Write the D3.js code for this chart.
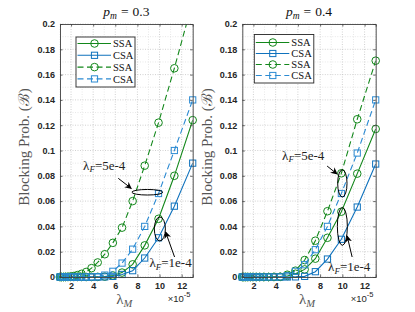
<!DOCTYPE html>
<html>
<head>
<meta charset="utf-8">
<script src="https://cdn.jsdelivr.net/npm/d3@7"></script>
<style>
body{margin:0;background:#fff}
</style>
</head>
<body>
<svg id="chart" width="415" height="312"></svg>
<script>
// lambda_M (x 1e-5)
var lambdaM = [1.00, 1.14, 1.31, 1.50, 1.72, 1.96, 2.25, 2.57, 2.94, 3.37, 3.85, 4.41, 5.05, 5.78, 6.61, 7.57, 8.66, 9.91, 11.34, 13.00];

// p_m = 0.3
var p3SsaLo = [0, 0, 0, 0, 0, 0, 0, 0, 0, 0, 0, 0.0001, 0.0003, 0.0012, 0.0035, 0.010, 0.025, 0.046, 0.080, 0.124];
var p3CsaLo = [0, 0, 0, 0, 0, 0, 0, 0, 0, 0, 0, 0, 0.0001, 0.0005, 0.002, 0.005, 0.015, 0.031, 0.056, 0.090];
var p3SsaHi = [0, 0, 0, 0.0001, 0.0002, 0.0004, 0.0008, 0.0015, 0.0025, 0.004, 0.007, 0.0115, 0.018, 0.027, 0.039, 0.060, 0.088, 0.122, 0.165, 0.218];
var p3CsaHi = [0, 0, 0, 0, 0, 0, 0, 0, 0, 0, 0, 0.0002, 0.0015, 0.0045, 0.011, 0.022, 0.040, 0.066, 0.100, 0.140];

// p_m = 0.4
var p4SsaLo = [0, 0, 0, 0, 0, 0, 0, 0, 0, 0, 0, 0.0001, 0.0008, 0.0026, 0.006, 0.0145, 0.031, 0.0516, 0.0817, 0.117];
var p4CsaLo = [0, 0, 0, 0, 0, 0, 0, 0, 0, 0, 0, 0, 0, 0.0001, 0.0005, 0.0042, 0.0142, 0.0298, 0.0553, 0.0893];
var p4SsaHi = [0, 0, 0, 0, 0, 0, 0, 0, 0, 0, 0.0001, 0.0002, 0.0018, 0.005, 0.0134, 0.0287, 0.052, 0.082, 0.1247, 0.171];
var p4CsaHi = [0, 0, 0, 0, 0, 0, 0, 0, 0, 0, 0, 0.0001, 0.001, 0.0045, 0.0097, 0.0216, 0.040, 0.066, 0.098, 0.140];

var legendNames = ["SSA", "CSA", "SSA", "CSA"];
var xTicks = [2, 4, 6, 8, 10, 12];
var yTicks = [0, 0.02, 0.04, 0.06, 0.08, 0.1, 0.12, 0.14, 0.16, 0.18, 0.2];

var green = "#12871a", blue = "#0f72bd", blueL = "#2b8ad2";
var styles = [
  {color: green, dash: null, mark: "circle"},
  {color: blue, dash: null, mark: "square"},
  {color: green, dash: "6,3.5", mark: "circle"},
  {color: blueL, dash: "6,3.5", mark: "square"}
];

var panels = [
  {pm: "0.3", x0: 60, x1: 192.7, ylabX: 29,
   series: [p3SsaLo, p3CsaLo, p3SsaHi, p3CsaHi],
   legend: {x: 76, y: 37, w: 59, h: 50, row0: 43.5, dy: 11.8},
   ellipses: [{cx: 8.9, cy: 0.067, rx: 1.4, ry: 0.0022}, {cx: 10.03, cy: 0.038, rx: 0.5, ry: 0.0095}],
   notes: [{txt: "5e-4", x: 3.09, y: 0.0846, ax: [6.27, 0.078], bx: [7.45, 0.070]},
           {txt: "1e-4", x: 9.09, y: 0.0079, ax: [11.36, 0.0158], bx: [10.55, 0.0356]}]},
  {pm: "0.4", x0: 242.3, x1: 375.7, ylabX: 212,
   series: [p4SsaLo, p4CsaLo, p4SsaHi, p4CsaHi],
   legend: {x: 254.3, y: 34.5, w: 59.5, h: 48.5, row0: 42.5, dy: 11},
   ellipses: [{cx: 10.0, cy: 0.074, rx: 0.42, ry: 0.0108}, {cx: 10.0, cy: 0.040, rx: 0.45, ry: 0.015}],
   notes: [{txt: "5e-4", x: 4.58, y: 0.0925, ax: [8.63, 0.0877], bx: [9.53, 0.0814]},
           {txt: "1e-4", x: 8.72, y: 0.0047, ax: [10.88, 0.0158], bx: [10.43, 0.0324]}]}
];

var svg = d3.select("#chart");
var plotTop = 24, plotBottom = 277;

svg.append("defs").append("marker")
  .attr("id", "head")
  .attr("viewBox", "0 0 10 10")
  .attr("refX", 9).attr("refY", 5)
  .attr("markerWidth", 7).attr("markerHeight", 7)
  .attr("markerUnits", "userSpaceOnUse")
  .attr("orient", "auto")
  .append("path").attr("d", "M0,0 L10,5 L0,10 L3,5 Z").attr("fill", "#000");

function drawMark(g, type, cx, cy, color){
  if(type == "circle")
    g.append("circle").attr("cx", cx).attr("cy", cy).attr("r", 3.8)
      .attr("fill", "none").attr("stroke", color).attr("stroke-width", 1);
  else
    g.append("rect").attr("x", cx - 3.1).attr("y", cy - 3.1).attr("width", 6.2).attr("height", 6.2)
      .attr("fill", "none").attr("stroke", color).attr("stroke-width", 1);
}

panels.forEach(function(p, pi){
  var x = d3.scaleLinear().domain([1, 13]).range([p.x0, p.x1]);
  var y = d3.scaleLinear().domain([0, 0.2]).range([plotBottom, plotTop]);
  var g = svg.append("g");

  // grid, minor then major
  var minorX = d3.range(1, 14).filter(function(v){ return v % 2; });
  var minorY = d3.range(1, 20, 2).map(function(v){ return v / 100; });
  g.selectAll(".mgx").data(minorX).enter().append("line")
    .attr("x1", function(d){ return x(d); }).attr("x2", function(d){ return x(d); })
    .attr("y1", plotTop).attr("y2", plotBottom)
    .attr("stroke", "#d6d6d6").attr("stroke-width", 0.6).attr("stroke-dasharray", "1,1.5");
  g.selectAll(".mgy").data(minorY).enter().append("line")
    .attr("x1", p.x0).attr("x2", p.x1)
    .attr("y1", function(d){ return y(d); }).attr("y2", function(d){ return y(d); })
    .attr("stroke", "#d6d6d6").attr("stroke-width", 0.6).attr("stroke-dasharray", "1,1.5");
  g.selectAll(".gx").data(xTicks).enter().append("line")
    .attr("x1", function(d){ return x(d); }).attr("x2", function(d){ return x(d); })
    .attr("y1", plotTop).attr("y2", plotBottom)
    .attr("stroke", "#bdbdbd").attr("stroke-width", 0.7).attr("stroke-dasharray", "1,1.5");
  g.selectAll(".gy").data(yTicks).enter().append("line")
    .attr("x1", p.x0).attr("x2", p.x1)
    .attr("y1", function(d){ return y(d); }).attr("y2", function(d){ return y(d); })
    .attr("stroke", "#bdbdbd").attr("stroke-width", 0.7).attr("stroke-dasharray", "1,1.5");

  // clip for lines
  var cid = "clip" + pi;
  svg.select("defs").append("clipPath").attr("id", cid)
    .append("rect").attr("x", p.x0).attr("y", plotTop).attr("width", p.x1 - p.x0).attr("height", plotBottom - plotTop);

  var line = d3.line().x(function(d){ return x(d[0]); }).y(function(d){ return y(d[1]); });
  p.series.forEach(function(vals, si){
    var st = styles[si];
    var pts = lambdaM.map(function(v, i){ return [v, vals[i]]; });
    g.append("path").datum(pts).attr("d", line)
      .attr("clip-path", "url(#" + cid + ")")
      .attr("fill", "none").attr("stroke", st.color).attr("stroke-width", 1.1)
      .attr("stroke-dasharray", st.dash);
    var mg = g.append("g");
    pts.filter(function(d){ return d[1] <= 0.2; }).forEach(function(d){
      drawMark(mg, st.mark, x(d[0]), y(d[1]), st.color);
    });
  });

  // axes
  var ax = g.append("g").attr("class", "axes");
  var fmtY = function(d){ return d == 0 ? "0" : d3.format(".2~f")(d); };
  ax.append("g").attr("transform", "translate(" + p.x0 + ",0)")
    .call(d3.axisLeft(y).tickValues(yTicks).tickFormat(fmtY).tickSize(-2.5).tickPadding(5));
  ax.append("g").attr("transform", "translate(" + p.x1 + ",0)")
    .call(d3.axisRight(y).tickValues(yTicks).tickFormat("").tickSize(-2.5));
  ax.append("g").attr("transform", "translate(0," + plotBottom + ")")
    .call(d3.axisBottom(x).tickValues(xTicks).tickSize(-2.5).tickPadding(6));
  ax.append("g").attr("transform", "translate(0," + plotTop + ")")
    .call(d3.axisTop(x).tickValues(xTicks).tickFormat("").tickSize(-2.5));
  ax.selectAll(".domain").attr("stroke", "#404040").attr("stroke-width", 0.9);
  ax.selectAll(".tick line").attr("stroke", "#404040").attr("stroke-width", 0.8);
  ax.selectAll(".tick text").attr("font-family", "'Liberation Sans', Arial, sans-serif")
    .attr("font-size", 9).attr("font-weight", "bold").attr("fill", "#262626");

  // title
  var t = svg.append("text").attr("x", (p.x0 + p.x1) / 2).attr("y", 15.5)
    .attr("text-anchor", "middle").attr("font-family", "'Liberation Serif', 'Times New Roman', serif")
    .attr("font-size", 13.5).attr("fill", "#111");
  t.append("tspan").attr("font-style", "italic").text("p");
  t.append("tspan").attr("font-style", "italic").attr("font-size", 9.5).attr("dy", 3).text("m");
  t.append("tspan").attr("dy", -3).attr("dx", 4).text("=");
  t.append("tspan").attr("dx", 4).text("0." + p.pm.slice(2));

  // y label
  svg.append("text").attr("transform", "translate(" + p.ylabX + ",147) rotate(-90)")
    .attr("text-anchor", "middle").attr("font-family", "'Liberation Serif', 'DejaVu Serif', serif")
    .attr("font-size", 15).attr("fill", "#555").text("Blocking Prob. (ℬ)");

  // x label
  var xl = svg.append("text").attr("x", (p.x0 + p.x1) / 2 - 2).attr("y", 303.5)
    .attr("text-anchor", "middle").attr("font-family", "'Liberation Serif', 'DejaVu Serif', serif")
    .attr("font-size", 15).attr("fill", "#555");
  xl.append("tspan").text("λ");
  xl.append("tspan").attr("font-style", "italic").attr("font-size", 10.5).attr("dy", 3).text("M");

  var ex = svg.append("text").attr("x", p.x1 - 25).attr("y", 301.5)
    .attr("font-family", "'Liberation Sans', Arial, sans-serif").attr("font-size", 9.5).attr("fill", "#262626");
  ex.append("tspan").text("×10");
  ex.append("tspan").attr("font-size", 7.5).attr("dy", -4.5).text("-5");

  // legend
  var L = p.legend;
  var lg = svg.append("g");
  lg.append("rect").attr("x", L.x).attr("y", L.y).attr("width", L.w).attr("height", L.h)
    .attr("fill", "#fff").attr("stroke", "#262626").attr("stroke-width", 0.9);
  legendNames.forEach(function(name, i){
    var st = styles[i];
    var ry = L.row0 + i * L.dy;
    lg.append("line").attr("x1", L.x + 1.5).attr("x2", L.x + 35).attr("y1", ry).attr("y2", ry)
      .attr("stroke", st.color).attr("stroke-width", 1.1).attr("stroke-dasharray", st.dash);
    drawMark(lg, st.mark, L.x + 18.5, ry, st.color);
    lg.append("text").attr("x", L.x + 37).attr("y", ry + 3.6)
      .attr("font-family", "'Liberation Serif', 'Times New Roman', serif").attr("font-size", 10.5)
      .attr("fill", "#111").text(name);
  });

  // annotations
  p.ellipses.forEach(function(e){
    svg.append("ellipse").attr("cx", x(e.cx)).attr("cy", y(e.cy))
      .attr("rx", x(e.cx + e.rx) - x(e.cx)).attr("ry", y(e.cy) - y(e.cy + e.ry))
      .attr("fill", "none").attr("stroke", "#000").attr("stroke-width", 1);
  });
  p.notes.forEach(function(n){
    svg.append("line").attr("x1", x(n.ax[0])).attr("y1", y(n.ax[1]))
      .attr("x2", x(n.bx[0])).attr("y2", y(n.bx[1]))
      .attr("stroke", "#000").attr("stroke-width", 1).attr("marker-end", "url(#head)");
    var nt = svg.append("text").attr("x", x(n.x)).attr("y", y(n.y))
      .attr("font-family", "'Liberation Serif', 'Times New Roman', serif").attr("font-size", 13)
      .attr("fill", "#222");
    nt.append("tspan").text("λ");
    nt.append("tspan").attr("font-style", "italic").attr("font-size", 9).attr("dy", 2.5).text("F");
    nt.append("tspan").attr("dy", -2.5).text("=" + n.txt);
  });
});
</script>
</body>
</html>
